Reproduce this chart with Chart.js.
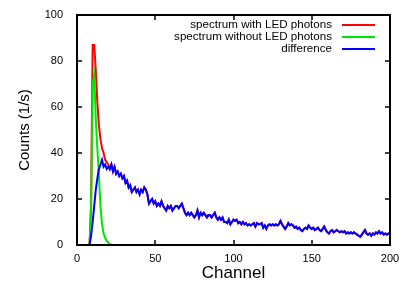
<!DOCTYPE html>
<html>
<head>
<meta charset="utf-8">
<script src="https://cdn.jsdelivr.net/npm/chart.js@4/dist/chart.umd.min.js"></script>
<style>
  html, body { margin: 0; padding: 0; background: #fff; }
  #wrap { width: 409px; height: 286px; }
</style>
</head>
<body>
<div id="wrap"><canvas id="spectrum"></canvas></div>
<script>
const seriesNames = ["spectrum with LED photons", "spectrum without LED photons", "difference"];
const xTicks = [0, 50, 100, 150, 200];
const yTicks = [0, 20, 40, 60, 80, 100];

// red curve, channels 8..20 (beyond 20 it lies under the difference curve)
const withLedStart = 8;
const withLed = [0, 18, 87, 87, 76, 62, 52, 46, 42, 40, 37, 36, 35];

// green curve, channels 8..23
const withoutLedStart = 8;
const withoutLed = [0, 15, 70, 74, 55, 42, 30, 17, 9, 5, 3, 1.8, 1, 0.5, 0.2, 0];

// blue curve, channels 8..200
const diffStart = 8;
const difference = [
  0, 4, 10, 17, 24, 29, 33, 35, 37, 34, 35, 33, 34, 33, 35, 32, 34, 31, 32, 30, 31, 29,      // 8-29
  30, 27, 28, 25, 26, 23, 24, 25, 23, 24, 22, 24, 23, 25, 24, 22, 18, 19, 20, 18,            // 30-49
  19, 17, 18, 17, 19, 17, 16, 15, 17, 16, 17, 15, 16, 17, 17, 16, 17, 18, 16, 14,            // 50-69
  13, 14, 13, 14, 13, 12, 13, 15, 12, 14, 13, 14, 13, 12, 13, 13, 12, 13, 14, 12,            // 70-89
  11, 12, 11, 12, 10, 10, 9.5, 11, 9, 10, 11, 10.5, 11, 9.5, 10, 9, 10, 9, 9.5, 8.5,        // 90-109
  9, 8.5, 9, 9.5, 8, 9.5, 9, 9, 9.5, 7.5, 8.5, 7, 8.5, 9, 8.5, 9, 8.5, 9, 8.5, 9,           // 110-129
  10.5, 9, 8, 7, 8, 9.5, 8.5, 9, 8.5, 7.5, 8, 7, 7.5, 6.5, 6, 7, 7.5, 7, 8.5, 7.5,          // 130-149
  7, 7.5, 6.5, 7, 7.5, 6.5, 6, 7, 8, 6.5, 5.5, 5, 6, 6.5, 5.5, 6, 6.5, 6, 5.5, 6,           // 150-169
  5.5, 6, 5, 5.5, 5, 5.5, 5, 5.5, 5, 4.5, 4, 3.5, 4.5, 5.5, 6.5, 5, 4.5, 5, 4, 5,           // 170-189
  4.5, 5.5, 5, 6, 5, 5.5, 4.5, 5, 4.5, 5, 4.5                                              // 190-200
];

const toPoints = (start, values) => values.map((v, i) => ({ x: start + i, y: v }));

// red continues underneath the difference curve after its own head
const redPoints = toPoints(withLedStart, withLed)
  .concat(toPoints(diffStart, difference).filter(p => p.x > withLedStart + withLed.length - 1));

const fontName = "'Liberation Sans', Arial, sans-serif";

// gnuplot style frame with inward ticks on all four sides
const framePlugin = {
  id: "frame",
  afterDatasetsDraw(chart) {
    const { ctx, chartArea: a, scales } = chart;
    ctx.save();
    ctx.strokeStyle = "#000";
    ctx.lineWidth = 2;
    ctx.strokeRect(a.left, a.top, a.right - a.left, a.bottom - a.top);
    ctx.lineWidth = 1.5;
    ctx.beginPath();
    scales.x.ticks.forEach(t => {
      const px = Math.round(scales.x.getPixelForValue(t.value));
      ctx.moveTo(px, a.bottom); ctx.lineTo(px, a.bottom - 5);
      ctx.moveTo(px, a.top); ctx.lineTo(px, a.top + 5);
    });
    scales.y.ticks.forEach(t => {
      const py = Math.round(scales.y.getPixelForValue(t.value));
      ctx.moveTo(a.left, py); ctx.lineTo(a.left + 5, py);
      ctx.moveTo(a.right, py); ctx.lineTo(a.right - 5, py);
    });
    ctx.stroke();
    ctx.restore();
  }
};

// key in the top right corner: right aligned text, sample line after it
const keyPlugin = {
  id: "key",
  afterDraw(chart) {
    const { ctx } = chart;
    ctx.save();
    ctx.font = "11.6px " + fontName;
    ctx.textAlign = "right";
    ctx.textBaseline = "middle";
    chart.data.datasets.forEach((ds, i) => {
      const y = 25 + i * 12;
      ctx.fillStyle = "#000";
      ctx.fillText(ds.label, 332, y);
      ctx.strokeStyle = ds.borderColor;
      ctx.lineWidth = 2;
      ctx.beginPath();
      ctx.moveTo(342, y); ctx.lineTo(375, y);
      ctx.stroke();
    });
    ctx.restore();
  }
};

new Chart(document.getElementById("spectrum"), {
  type: "line",
  data: {
    datasets: [
      { label: seriesNames[0], data: redPoints, borderColor: "#ff0000", order: 2 },
      { label: seriesNames[1], data: toPoints(withoutLedStart, withoutLed), borderColor: "#00e600", order: 1 },
      { label: seriesNames[2], data: toPoints(diffStart, difference), borderColor: "#0000ff", order: 0 }
    ]
  },
  options: {
    responsive: true,
    maintainAspectRatio: false,
    animation: false,
    layout: { padding: { top: 15, right: 19, left: 0, bottom: 0 } },
    elements: {
      line: { borderWidth: 2, tension: 0, fill: false },
      point: { radius: 0 }
    },
    plugins: {
      legend: { display: false },
      tooltip: { enabled: false }
    },
    scales: {
      x: {
        type: "linear",
        min: 0, max: 200,
        grid: { display: false, drawTicks: false },
        border: { display: false },
        afterBuildTicks: s => { s.ticks = xTicks.map(v => ({ value: v })); },
        ticks: { color: "#000", font: { family: fontName, size: 11 }, padding: 7, maxRotation: 0 },
        title: { display: true, text: "Channel", color: "#000", font: { family: fontName, size: 17 }, padding: { top: 0, bottom: 2 } },
        afterFit: s => { s.height = 41; s.paddingLeft = 0; s.paddingRight = 0; }
      },
      y: {
        min: 0, max: 100,
        grid: { display: false, drawTicks: false },
        border: { display: false },
        afterBuildTicks: s => { s.ticks = yTicks.map(v => ({ value: v })); },
        ticks: { color: "#000", font: { family: fontName, size: 11 }, padding: 14 },
        title: { display: true, text: "Counts (1/s)", color: "#000", font: { family: fontName, size: 15 }, padding: { top: 16, bottom: 0 } },
        afterFit: s => { s.width = 77; s.paddingTop = 0; s.paddingBottom = 0; }
      }
    }
  },
  plugins: [framePlugin, keyPlugin]
});
</script>
</body>
</html>
